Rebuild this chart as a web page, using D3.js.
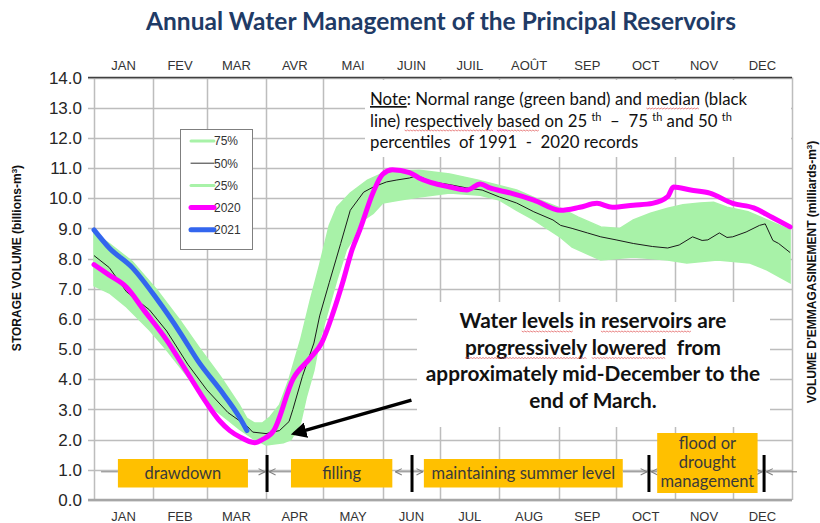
<!DOCTYPE html>
<html>
<head>
<meta charset="utf-8">
<title>Annual Water Management</title>
<script src="https://d3js.org/d3.v7.min.js"></script>
<style>
  body { margin: 0; background: #fff; }
</style>
</head>
<body>
<svg id="chart"></svg>
<script>
// month labels (top in French, bottom in English) and month starts (day of year)
var monthsTop = ["JAN", "FEV", "MAR", "AVR", "MAI", "JUIN", "JUIL", "AOÛT", "SEP", "OCT", "NOV", "DEC"];
var monthsBottom = ["JAN", "FEB", "MAR", "APR", "MAY", "JUN", "JUL", "AUG", "SEP", "OCT", "NOV", "DEC"];
var monthStarts = [0, 31, 59, 90, 120, 151, 181, 212, 243, 273, 304, 334, 365];
var yTicks = d3.range(0, 14.5, 1);

// [day of year, billions m3]
var p75 = [[0,8.85],[8,8.5],[20,7.9],[33,6.95],[45,5.95],[55,5.05],[66,4.1],[76,3.15],[80,2.7],[84,2.55],[88,2.55],
  [92,2.75],[97,3.15],[102,4.0],[108,5.3],[113,6.6],[118,7.8],[123,9.1],[125,9.4],[127,9.7],[134,10.17],[143,10.6],
  [151,10.83],[160,10.9],[170,10.93],[186,10.8],[201,10.6],[221,10.27],[233,9.94],[244,9.67],[253,9.38],[265,9.05],
  [275,9.0],[282,9.28],[291,9.5],[300,9.67],[308,9.78],[317,9.84],[324,9.87],[331,9.7],[342,9.55],[352,9.28],[364,8.95]];
var p25 = [[0,7.1],[8,6.86],[17,6.4],[29,5.63],[38,4.97],[49,4.08],[59,3.2],[70,2.65],[76,2.35],[84,2.0],[90,1.82],
  [99,1.9],[103,2.0],[108,2.55],[111,3.4],[115,4.3],[118,5.3],[123,6.4],[127,7.3],[132,8.3],[135,8.6],[139,9.2],
  [146,9.5],[151,9.84],[160,9.94],[170,10.04],[186,10.17],[202,10.1],[212,9.94],[221,9.6],[230,9.28],[244,8.7],
  [250,8.38],[265,7.95],[282,8.05],[300,7.95],[310,7.85],[326,7.95],[343,7.85],[352,7.62],[364,7.2]];
var p50 = [[0,8.1],[8,7.7],[17,6.9],[29,6.3],[38,5.6],[49,4.5],[59,3.65],[70,2.9],[80,2.45],[83,2.25],[90,2.2],
  [97,2.3],[102,2.6],[104,3.0],[109,4.1],[115,5.2],[118,6.1],[123,7.2],[129,8.5],[134,9.6],[141,10.2],[146,10.37],
  [153,10.54],[158,10.6],[165,10.67],[169,10.75],[177,10.54],[186,10.45],[195,10.34],[203,10.27],[212,10.04],
  [221,9.84],[230,9.55],[240,9.28],[244,9.1],[250,9.0],[258,8.85],[265,8.72],[273,8.62],[282,8.5],[292,8.4],
  [300,8.35],[306,8.45],[313,8.72],[318,8.6],[321,8.62],[327,8.85],[331,8.7],[334,8.72],[341,8.88],[348,9.1],
  [351,9.15],[355,8.6],[358,8.5],[364,8.2]];
var y2020 = [[0,7.8],[8,7.45],[17,7.05],[26,6.3],[38,5.3],[49,4.2],[59,3.2],[66,2.6],[71,2.3],[76,2.1],[84,1.9],
  [88,2.0],[94,2.3],[104,4.0],[113,4.7],[119,5.2],[125,6.2],[130,7.2],[135,8.3],[139,8.95],[146,10.2],[151,10.8],
  [156,10.94],[165,10.85],[170,10.67],[186,10.37],[195,10.27],[202,10.47],[207,10.34],[218,10.17],[230,9.94],
  [244,9.6],[254,9.7],[263,9.83],[271,9.7],[282,9.77],[292,9.83],[300,10.05],[303,10.37],[312,10.27],[322,10.17],
  [334,9.83],[345,9.68],[355,9.35],[364,9.05]];
var y2021 = [[0,8.95],[8,8.35],[20,7.7],[33,6.65],[45,5.55],[55,4.55],[66,3.65],[76,2.75],[80,2.3]];

// management phases (days of year)
var phases = [
  {label: ["drawdown"], start: 12.5, end: 80.5},
  {label: ["filling"], start: 103, end: 156},
  {label: ["maintaining summer level"], start: 172.5, end: 276.5},
  {label: ["flood or", "drought", "management"], start: 294.5, end: 347}
];
var phaseBreaks = [90.5, 166.3, 290.2, 350.4];
var phaseArrows = [[80.5, 89.4], [103, 91.6], [166.3, 157.6], [166.3, 172], [276.6, 289.2], [294.4, 291.4],
  [347.2, 349.4], [367.6, 351.6]];

var width = 820, height = 523;
var svg = d3.select("#chart").attr("width", width).attr("height", height);
svg.append("rect").attr("width", width).attr("height", height).attr("fill", "#fff");

var x = d3.scaleLinear().domain([0, 365]).range([94, 792]);
var y = d3.scaleLinear().domain([0, 14]).range([500, 77.5]);

// grid
svg.append("g").selectAll("line").data(yTicks).enter().append("line")
  .attr("x1", 88).attr("x2", 792)
  .attr("y1", function(d) { return Math.round(y(d)) + 0.5; }).attr("y2", function(d) { return Math.round(y(d)) + 0.5; })
  .attr("stroke", "#bdbdbd").attr("stroke-width", 1.5);
svg.append("g").selectAll("line").data(monthStarts).enter().append("line")
  .attr("x1", function(d) { return Math.round(x(d)) + 0.5; }).attr("x2", function(d) { return Math.round(x(d)) + 0.5; })
  .attr("y1", y(14)).attr("y2", y(0))
  .attr("stroke", "#bdbdbd").attr("stroke-width", 1.5);

// white boxes behind the notes
svg.append("rect").attr("x", 365).attr("y", 80).attr("width", 426).attr("height", 77).attr("fill", "#fff");
svg.append("rect").attr("x", 417).attr("y", 302).attr("width", 353).attr("height", 125).attr("fill", "#fff");

// frame
svg.append("line").attr("x1", 88).attr("x2", 792).attr("y1", y(14)).attr("y2", y(14))
  .attr("stroke", "#404040").attr("stroke-width", 1.5);
svg.append("line").attr("x1", 88).attr("x2", 792).attr("y1", y(0)).attr("y2", y(0))
  .attr("stroke", "#a6a6a6").attr("stroke-width", 2.5);

// y tick labels
svg.append("g").selectAll("text").data(yTicks).enter().append("text")
  .attr("x", 82).attr("y", function(d) { return y(d); }).attr("dy", "0.36em")
  .attr("text-anchor", "end").attr("font-family", "Liberation Sans, Arial, sans-serif")
  .attr("font-size", 17).attr("fill", "#262626")
  .text(function(d) { return d.toFixed(1); });

// month labels
var mids = monthStarts.slice(0, 12).map(function(d, i) { return (d + monthStarts[i + 1]) / 2; });
svg.append("g").selectAll("text").data(monthsTop).enter().append("text")
  .attr("x", function(d, i) { return x(mids[i]); }).attr("y", 70)
  .attr("text-anchor", "middle").attr("font-family", "Liberation Sans, Arial, sans-serif")
  .attr("font-size", 13).attr("fill", "#333").text(function(d) { return d; });
svg.append("g").selectAll("text").data(monthsBottom).enter().append("text")
  .attr("x", function(d, i) { return x(mids[i]); }).attr("y", 521)
  .attr("text-anchor", "middle").attr("font-family", "Liberation Sans, Arial, sans-serif")
  .attr("font-size", 13).attr("fill", "#333").text(function(d) { return d; });

// green band
var lineGen = d3.line().x(function(d) { return x(d[0]); }).y(function(d) { return y(d[1]); });
svg.append("path").attr("d", lineGen(p75.concat(p25.slice().reverse())) + "Z")
  .attr("fill", "#a8f2a8").attr("stroke", "#a8f2a8").attr("stroke-width", 1.5);
svg.append("path").attr("d", lineGen(p50)).attr("fill", "none").attr("stroke", "#1a1a1a").attr("stroke-width", 1);

var smooth = d3.line().curve(d3.curveMonotoneX).x(function(d) { return x(d[0]); }).y(function(d) { return y(d[1]); });
svg.append("path").attr("d", smooth(y2020)).attr("fill", "none").attr("stroke", "#ff00ff")
  .attr("stroke-width", 5).attr("stroke-linecap", "round").attr("stroke-linejoin", "round");
svg.append("path").attr("d", smooth(y2021)).attr("fill", "none").attr("stroke", "#3366ee")
  .attr("stroke-width", 5).attr("stroke-linecap", "round").attr("stroke-linejoin", "round");

// legend
var legendItems = [
  {name: "75%", color: "#a8f2a8", w: 3},
  {name: "50%", color: "#333", w: 1},
  {name: "25%", color: "#a8f2a8", w: 3},
  {name: "2020", color: "#ff00ff", w: 5},
  {name: "2021", color: "#3366ee", w: 5}
];
var lg = svg.append("g");
lg.append("rect").attr("x", 180.5).attr("y", 129.5).attr("width", 72).attr("height", 120)
  .attr("fill", "#fff").attr("stroke", "#7f7f7f").attr("stroke-width", 1);
legendItems.forEach(function(d, i) {
  var ly = 141 + i * 22.2;
  lg.append("line").attr("x1", 191).attr("x2", 214).attr("y1", ly).attr("y2", ly)
    .attr("stroke", d.color).attr("stroke-width", d.w).attr("stroke-linecap", "round");
  lg.append("text").attr("x", 214).attr("y", ly).attr("dy", "0.36em")
    .attr("font-family", "Liberation Sans, Arial, sans-serif").attr("font-size", 12).attr("fill", "#333")
    .text(d.name);
});

// axis titles
svg.append("text").attr("transform", "translate(21,258) rotate(-90)").attr("text-anchor", "middle")
  .attr("font-family", "Liberation Sans, Arial, sans-serif").attr("font-size", 12).attr("font-weight", "bold")
  .attr("fill", "#111")
  .html("STORAGE VOLUME (billions-m<tspan baseline-shift='super' font-size='8'>3</tspan>)");
svg.append("text").attr("transform", "translate(816,272) rotate(-90)").attr("text-anchor", "middle")
  .attr("font-family", "Liberation Sans, Arial, sans-serif").attr("font-size", 12).attr("font-weight", "bold")
  .attr("fill", "#111")
  .html("VOLUME D'EMMAGASINEMENT (milliards-m<tspan baseline-shift='super' font-size='8'>3</tspan>)");

// title
svg.append("text").attr("x", 441).attr("y", 30).attr("text-anchor", "middle")
  .attr("font-family", "Lato, 'Open Sans', sans-serif").attr("font-size", 24.5).attr("font-weight", "bold")
  .attr("fill", "#1f3b66").text("Annual Water Management of the Principal Reservoirs");

// red spell-check squiggles under flagged words
function squiggle(node) {
  var b = node.getBBox();
  var yy = b.y + b.height - 1, pts = [];
  for (var xx = b.x, k = 0; xx <= b.x + b.width; xx += 1.5, k++) pts.push([xx, yy + (k % 2 ? 1 : 0)]);
  svg.append("path").attr("d", d3.line()(pts)).attr("fill", "none").attr("stroke", "#e05050").attr("stroke-width", 0.7);
}

// note
var note = svg.append("g").attr("font-family", "Lato, 'Open Sans', sans-serif").attr("font-size", 16.8).attr("fill", "#111");
var n1 = note.append("text").attr("x", 370).attr("y", 105);
n1.append("tspan").attr("text-decoration", "underline").text("Note");
n1.append("tspan").text(": Normal range (green band) and ");
var m1 = n1.append("tspan").text("median");
n1.append("tspan").text(" (black");
var n2 = note.append("text").attr("x", 370).attr("y", 127).attr("xml:space", "preserve");
n2.append("tspan").text("line) ");
var m2 = n2.append("tspan").text("respectively");
n2.append("tspan").text(" ");
var m3 = n2.append("tspan").text("based");
n2.append("tspan").text(" on 25 ");
n2.append("tspan").attr("font-size", 11).attr("baseline-shift", "super").text("th");
n2.append("tspan").text("  \u2013  75 ");
n2.append("tspan").attr("font-size", 11).attr("baseline-shift", "super").text("th");
n2.append("tspan").text(" and 50 ");
n2.append("tspan").attr("font-size", 11).attr("baseline-shift", "super").text("th");
note.append("text").attr("x", 370).attr("y", 148).attr("xml:space", "preserve")
  .text("percentiles  of 1991  -  2020 records");
[m1, m2, m3].forEach(function(s) { squiggle(s.node()); });

// big annotation
var bigLines = [
  [["Water", 0], [" ", 0], ["levels", 1], [" in ", 0], ["reservoirs", 1], [" are", 0]],
  [["progressively", 1], [" ", 0], ["lowered", 1], ["  from", 0]],
  [["approximately mid-December to the", 0]],
  [["end of March.", 0]]
];
var big = svg.append("g").attr("font-family", "Lato, 'Open Sans', sans-serif").attr("font-size", 20.8)
  .attr("font-weight", "bold").attr("fill", "#111");
bigLines.forEach(function(line, i) {
  var t = big.append("text").attr("x", 593).attr("y", 328 + i * 26.5).attr("text-anchor", "middle")
    .attr("xml:space", "preserve");
  line.forEach(function(w) {
    var s = t.append("tspan").text(w[0]);
    if (w[1]) s.classed("flag", true);
  });
});
big.selectAll("tspan.flag").each(function() { squiggle(this); });

// pointer arrow
var defs = svg.append("defs");
defs.append("marker").attr("id", "bigHead").attr("viewBox", "0 0 10 10").attr("refX", 8).attr("refY", 5)
  .attr("markerWidth", 4.5).attr("markerHeight", 4.5).attr("orient", "auto")
  .append("path").attr("d", "M0,0 L10,5 L0,10 Z").attr("fill", "#000");
svg.append("line").attr("x1", x(166)).attr("y1", y(3.31)).attr("x2", x(104.5)).attr("y2", y(2.2))
  .attr("stroke", "#000").attr("stroke-width", 3.5).attr("marker-end", "url(#bigHead)");

// phases
defs.append("marker").attr("id", "chev").attr("viewBox", "0 0 10 10").attr("refX", 9).attr("refY", 5)
  .attr("markerWidth", 8).attr("markerHeight", 8).attr("markerUnits", "userSpaceOnUse").attr("orient", "auto")
  .append("path").attr("d", "M1,1 L9,5 L1,9").attr("fill", "none").attr("stroke", "#7f7f7f").attr("stroke-width", 1.3);
var ay = y(1) + 2;
svg.append("line").attr("x1", x(3.7)).attr("x2", x(12.5)).attr("y1", ay).attr("y2", ay)
  .attr("stroke", "#7f7f7f").attr("stroke-width", 1);
svg.append("g").selectAll("line").data(phaseArrows).enter().append("line")
  .attr("x1", function(d) { return x(d[0]); }).attr("x2", function(d) { return x(d[1]); })
  .attr("y1", ay).attr("y2", ay).attr("stroke", "#7f7f7f").attr("stroke-width", 1)
  .attr("marker-end", "url(#chev)");

var pg = svg.append("g").selectAll("g").data(phases).enter().append("g");
pg.append("rect")
  .attr("x", function(d) { return x(d.start); })
  .attr("width", function(d) { return x(d.end) - x(d.start); })
  .attr("y", function(d) { return d.label.length > 1 ? 433 : 459; })
  .attr("height", function(d) { return d.label.length > 1 ? 60 : 28.5; })
  .attr("fill", "#ffc000");
pg.each(function(d) {
  var g = d3.select(this), cx = (x(d.start) + x(d.end)) / 2;
  var y0 = d.label.length > 1 ? 449 : 479;
  d.label.forEach(function(l, i) {
    g.append("text").attr("x", cx).attr("y", y0 + i * 19).attr("text-anchor", "middle")
      .attr("font-family", "Lato, 'Open Sans', sans-serif").attr("font-size", 16.5).attr("fill", "#3a3a3a")
      .text(l);
  });
});
svg.append("g").selectAll("line").data(phaseBreaks).enter().append("line")
  .attr("x1", function(d) { return x(d); }).attr("x2", function(d) { return x(d); })
  .attr("y1", 455).attr("y2", 492).attr("stroke", "#000").attr("stroke-width", 3);
</script>
</body>
</html>
